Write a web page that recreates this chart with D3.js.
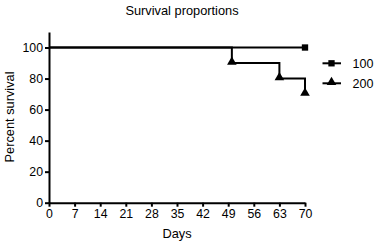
<!DOCTYPE html>
<html><head><meta charset="utf-8">
<script src="https://cdn.jsdelivr.net/npm/d3@7"></script>
<style>body{margin:0;background:#fff}text{font-family:"Liberation Sans",Arial,sans-serif;fill:#000}</style>
</head><body>
<svg id="c" width="374" height="243"></svg>
<script>
const seriesNames = ["100", "200"];
const days100 = [0, 70];
const surv100 = [100, 100];
const days200 = [0, 50, 63, 70];
const surv200 = [100, 90, 80, 70];
const xTicks = [0, 7, 14, 21, 28, 35, 42, 49, 56, 63, 70];
const yTicks = [0, 20, 40, 60, 80, 100];

const svg = d3.select("#c");
const x = d3.scaleLinear().domain([0, 70]).range([49, 305]);
const y = d3.scaleLinear().domain([0, 110]).range([202.7, 32]);

const gx = svg.append("g").attr("transform", `translate(0,${y(0)})`)
  .call(d3.axisBottom(x).tickValues(xTicks).tickSize(4).tickSizeOuter(0).tickPadding(3));
const gy = svg.append("g").attr("transform", `translate(${x(0)},0)`)
  .call(d3.axisLeft(y).tickValues(yTicks).tickSize(4).tickSizeOuter(0).tickPadding(2));
[gx, gy].forEach(g => {
  g.selectAll("path,line").attr("stroke", "#000").attr("stroke-width", 2);
  g.selectAll("text").attr("font-size", 12.3).attr("font-family", '"Liberation Sans",Arial,sans-serif');
});

function stepPts(ds, vs) {
  const p = [[ds[0], vs[0]]];
  for (let i = 1; i < ds.length; i++) { p.push([ds[i], vs[i-1]]); p.push([ds[i], vs[i]]); }
  return p;
}
const line = d3.line().x(d => x(d[0])).y(d => y(d[1]));
svg.append("path").attr("d", line(stepPts(days200, surv200))).attr("fill", "none").attr("stroke", "#000").attr("stroke-width", 2);
svg.append("path").attr("d", line(stepPts(days100, surv100))).attr("fill", "none").attr("stroke", "#000").attr("stroke-width", 2);

const sq = d3.symbol().type(d3.symbolSquare).size(40);
const tri = d3.symbol().type(d3.symbolTriangle).size(40);
svg.append("path").attr("d", sq()).attr("transform", `translate(${x(days100[1])},${y(surv100[1])})`);
days200.slice(1).forEach((d, i) => {
  svg.append("path").attr("d", tri()).attr("transform", `translate(${x(d)},${y(surv200[i+1]) - 1})`);
});

// legend
const leg = [[sq, 63.3], [tri, 83.3]];
leg.forEach(([sym, ly], i) => {
  svg.append("line").attr("x1", 322.5).attr("x2", 341).attr("y1", ly).attr("y2", ly).attr("stroke", "#000").attr("stroke-width", 2);
  svg.append("path").attr("d", sym()).attr("transform", `translate(331.5,${ly - (i ? 1 : 0)})`);
  svg.append("text").attr("x", 352.5).attr("y", ly + 4.5).attr("font-size", 12.5).text(seriesNames[i]);
});

svg.append("text").attr("x", 182).attr("y", 15).attr("text-anchor", "middle").attr("font-size", 12.8).text("Survival proportions");
svg.append("text").attr("x", x(35)).attr("y", 237.5).attr("text-anchor", "middle").attr("font-size", 12.8).text("Days");
svg.append("text").attr("transform", `translate(14,117) rotate(-90)`).attr("text-anchor", "middle").attr("font-size", 12.8).text("Percent survival");
</script>
</body></html>
